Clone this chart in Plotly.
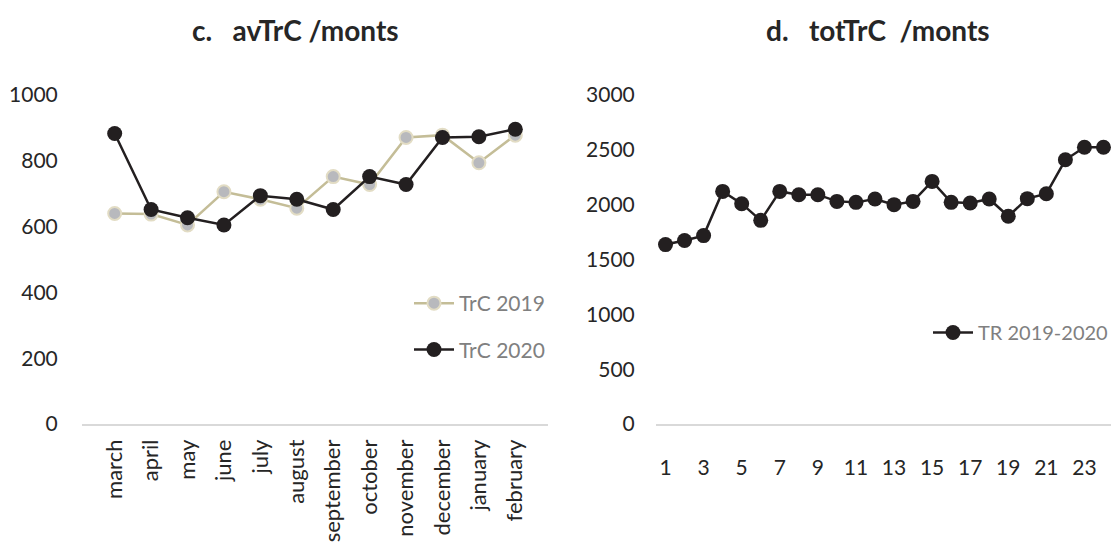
import plotly.graph_objects as go

months = ["march", "april", "may", "june", "july", "august", "september",
          "october", "november", "december", "january", "february"]
trc_2019 = [640, 638, 605, 706, 683, 656, 752, 728, 871, 878, 794, 878]
trc_2020 = [883, 652, 627, 605, 694, 683, 652, 752, 728, 871, 873, 896]

periods = list(range(1, 25))
tr_total = [1636, 1673, 1718, 2121, 2009, 1857, 2121, 2091, 2091, 2030, 2021, 2052,
            2000, 2030, 2212, 2021, 2015, 2052, 1894, 2055, 2100, 2409, 2524, 2524]

FONT = "Lato, 'Open Sans', sans-serif"
OFF = 8                      # default page body margin
W, H = 1119 - OFF, 543 - OFF
T = 95 - OFF
B = H - (424 - OFF)
PH = H - T - B
NB = "\u00a0"


def px(sx):
    """screen x -> paper fraction"""
    return (sx - OFF) / W


def py(sy):
    """screen y -> paper fraction"""
    return (H - B - (sy - OFF)) / PH


fig = go.Figure()

fig.add_trace(go.Scatter(
    x=months, y=trc_2019, name="TrC 2019", mode="lines+markers",
    line=dict(color="#c4bd97", width=2.5),
    marker=dict(size=13, color="#b8b9bd", line=dict(color="#e2dcc4", width=2)),
    xaxis="x", yaxis="y", legend="legend", legendgroup="a"))
fig.add_trace(go.Scatter(
    x=months, y=trc_2020, name="TrC 2020", mode="lines+markers",
    line=dict(color="#231f20", width=2.5),
    marker=dict(size=15, color="#231f20"),
    xaxis="x", yaxis="y", legend="legend", legendgroup="b"))
fig.add_trace(go.Scatter(
    x=periods, y=tr_total, name="TR 2019-2020", mode="lines+markers",
    line=dict(color="#231f20", width=2.5),
    marker=dict(size=15, color="#231f20"),
    xaxis="x2", yaxis="y2", legend="legend2"))

TICKC = "#262626"
axis_common = dict(showgrid=False, zeroline=False, automargin=False)

fig.update_layout(
    width=W, height=H,
    margin=dict(l=0, r=0, t=T, b=B),
    paper_bgcolor="white", plot_bgcolor="white",
    font=dict(family=FONT, color=TICKC),
    xaxis=dict(domain=[px(82), px(548)], type="category", tickangle=-90,
               showline=True, linecolor="#d9d9d9", linewidth=1.5,
               ticks="outside", ticklen=5, tickcolor="rgba(0,0,0,0)",
               tickfont=dict(family=FONT, size=22, color=TICKC),
               anchor="y", **axis_common),
    yaxis=dict(range=[0, 1000], dtick=200, showline=False, anchor="x",
               ticks="outside", ticklen=19, tickcolor="rgba(0,0,0,0)",
               tickfont=dict(family=FONT, size=21, color=TICKC),
               **axis_common),
    xaxis2=dict(domain=[px(656), px(1113)], range=[0.5, 24.5], tick0=1, dtick=2,
                showline=True, linecolor="#d9d9d9", linewidth=1.5,
                ticks="outside", ticklen=24, tickcolor="rgba(0,0,0,0)",
                tickfont=dict(family=FONT, size=21, color=TICKC),
                anchor="y2", **axis_common),
    yaxis2=dict(range=[0, 3000], dtick=500, showline=False, anchor="x2",
                ticks="outside", ticklen=16, tickcolor="rgba(0,0,0,0)",
                tickfont=dict(family=FONT, size=21, color=TICKC),
                **axis_common),
    legend=dict(x=px(409), y=py(283), xanchor="left", yanchor="top",
                font=dict(family=FONT, size=21, color="#808080"),
                bgcolor="rgba(0,0,0,0)", traceorder="grouped",
                tracegroupgap=16, itemwidth=40),
    legend2=dict(x=px(928), y=py(313), xanchor="left", yanchor="top",
                 font=dict(family=FONT, size=20, color="#808080"),
                 bgcolor="rgba(0,0,0,0)", itemwidth=40),
    showlegend=True,
    annotations=[
        dict(text="<b>c." + NB * 3 + "avTrC /monts</b>", x=px(295), y=py(30),
             xref="paper", yref="paper", showarrow=False,
             font=dict(family=FONT, size=28, color=TICKC),
             xanchor="center", yanchor="middle"),
        dict(text="<b>d." + NB * 3 + "totTrC" + NB * 2 + "/monts</b>", x=px(878), y=py(30),
             xref="paper", yref="paper", showarrow=False,
             font=dict(family=FONT, size=28, color=TICKC),
             xanchor="center", yanchor="middle"),
    ],
)

fig.write_html("out.html")
